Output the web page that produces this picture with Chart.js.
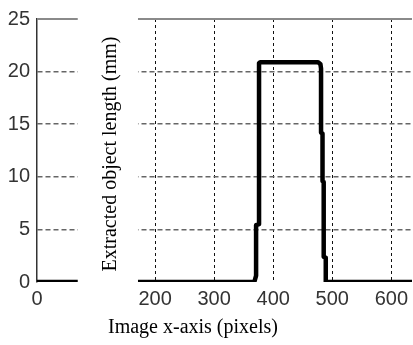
<!DOCTYPE html>
<html>
<head>
<meta charset="utf-8">
<script src="https://cdn.jsdelivr.net/npm/chart.js@4"></script>
<style>
  html, body { margin: 0; padding: 0; background: #fff; }
  #wrap { width: 413px; height: 345px; }
</style>
</head>
<body>
<div id="wrap"><canvas id="lenChart" width="413" height="345"></canvas></div>
<script>
// x in image pixels, y in mm
const xPix  = [0, 368, 371, 371, 376, 376, 378, 476, 480, 481, 481, 483.5, 483.5, 485.5, 485.5, 489, 489, 640];
const lenMm = [0, 0, 0.6, 5.4, 5.5, 20.8, 20.9, 20.9, 20.7, 20.3, 14.2, 14.1, 9.6, 9.5, 2.4, 2.3, 0, 0];
const xTicks = [0, 100, 200, 300, 400, 500, 600];
const yTicks = [0, 5, 10, 15, 20, 25];
const xTitle = 'Image x-axis (pixels)';
const yTitle = 'Extracted object length (mm)';

// white box the y label sits on (in x-axis units)
const MASK_FROM = 69, MASK_TO = 171;
const tickFont = { family: '"Liberation Sans Narrow", "Liberation Sans", Arial, sans-serif', size: 20 };
const titleFont = '20px "Liberation Serif", "Times New Roman", serif';

const frameAndLabels = {
  id: 'frameAndLabels',
  afterDraw(chart) {
    const { ctx, chartArea: ca, scales: { x } } = chart;
    ctx.save();
    // top frame line
    ctx.strokeStyle = '#8a8a8a';
    ctx.lineWidth = 2;
    ctx.beginPath();
    ctx.moveTo(ca.left, ca.top);
    ctx.lineTo(ca.right, ca.top);
    ctx.stroke();

    const l = x.getPixelForValue(MASK_FROM), r = x.getPixelForValue(MASK_TO);
    ctx.fillStyle = '#fff';
    ctx.fillRect(l, 0, r - l, chart.height);

    ctx.fillStyle = '#000';
    ctx.font = titleFont;
    ctx.textAlign = 'left';
    ctx.textBaseline = 'alphabetic';
    ctx.fillText(xTitle, 108, 333);

    ctx.translate(116, 154);
    ctx.rotate(-Math.PI / 2);
    ctx.textAlign = 'center';
    ctx.fillText(yTitle, 0, 0);
    ctx.restore();
  }
};

new Chart(document.getElementById('lenChart'), {
  type: 'line',
  data: {
    datasets: [{
      data: xPix.map((v, i) => ({ x: v, y: lenMm[i] })),
      borderColor: '#000',
      borderWidth: 4.5,
      borderJoinStyle: 'round',
      pointRadius: 0,
      fill: false
    }]
  },
  options: {
    responsive: false,
    animation: false,
    layout: { padding: { top: 19, left: 0, right: 0, bottom: 0 } },
    plugins: { legend: { display: false }, tooltip: { enabled: false } },
    scales: {
      x: {
        type: 'linear',
        min: 0,
        max: 635,
        afterBuildTicks: s => { s.ticks = xTicks.map(v => ({ value: v })); },
        afterFit: s => { s.height = 63; },
        ticks: { color: '#333', font: tickFont, padding: 5, maxRotation: 0, autoSkip: false },
        grid: {
          drawTicks: false,
          color: c => (c.tick && c.tick.value === 0) ? 'rgba(0,0,0,0)' : '#111',
          lineWidth: 1
        },
        border: { display: false, dash: [3, 3] }
      },
      y: {
        min: 0,
        max: 25,
        afterBuildTicks: s => { s.ticks = yTicks.map(v => ({ value: v })); },
        afterFit: s => { s.width = 37; },
        ticks: { color: '#333', font: tickFont, padding: 7 },
        grid: {
          drawTicks: false,
          color: c => (c.tick && (c.tick.value === 0 || c.tick.value === 25)) ? 'rgba(0,0,0,0)' : '#666',
          lineWidth: 1.5
        },
        border: { display: true, color: '#333', width: 1.5, dash: [5, 3] }
      }
    }
  },
  plugins: [frameAndLabels]
});
</script>
</body>
</html>
